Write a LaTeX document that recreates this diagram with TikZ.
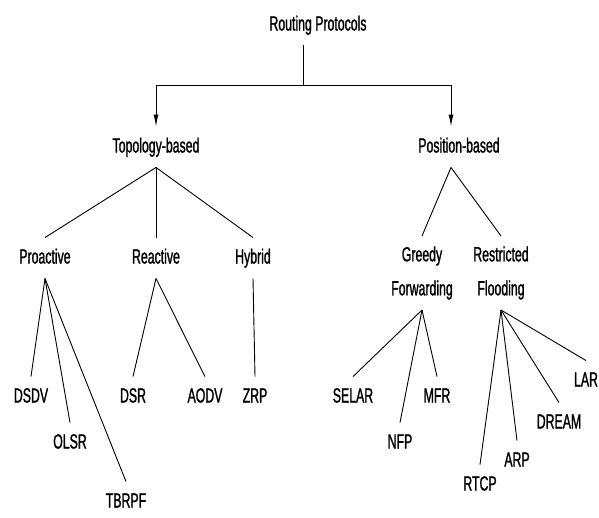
\documentclass[tikz,border=0pt]{standalone}
\usepackage{fontspec}
\setmainfont{Liberation Sans}[FakeStretch=0.6, FakeBold=1.2]
\usetikzlibrary{arrows.meta}

\tikzset{
  base/.style={font=\fontsize{20.5}{34}\selectfont, inner xsep=0pt},
  proto/.style={base, text height=15pt, text depth=4pt, inner ysep=10.5pt},
  twoline/.style={base, align=center, inner ysep=10pt},
  branch/.style={-{Latex[length=12pt,width=5pt]}}
}

\begin{document}
\begin{tikzpicture}[x=1pt, y=-1pt, line width=0.9pt]
\useasboundingbox (0,0) rectangle (599,517);
% Root and split
\node[proto] (root) at (318,25) {Routing Protocols};
\coordinate (split) at (303,85);
% Second level
\node[proto] (topo) at (156,147) {Topology-based};
\node[proto] (pos) at (459,147) {Position-based};
\draw (root.south -| split) -- (split);
\draw[branch] (split) -| (topo.north);
\draw[branch] (split) -| ([xshift=-8pt]pos.north);
% Topology-based classes
\node[proto] (pro) at (45,258) {Proactive};
\node[proto] (rea) at (156,258) {Reactive};
\node[proto] (hyb) at (253,258) {Hybrid};
\draw (topo.south) -- (pro.north);
\draw (topo.south) -- (rea.north);
\draw (topo.south) -- (hyb.north);
% Position-based classes
\node[twoline] (greedy) at (422,273) {Greedy\\Forwarding};
\node[twoline] (restr) at (501,273) {Restricted\\Flooding};
\draw ([xshift=-8pt]pos.south) -- (greedy.north);
\draw ([xshift=-8pt]pos.south) -- (restr.north);
% Proactive protocols
\node[proto] (dsdv) at (31,397) {DSDV};
\node[proto] (olsr) at (70,443) {OLSR};
\node[proto] (tbrpf) at (126,502) {TBRPF};
\draw (pro.south) -- (dsdv.north);
\draw (pro.south) -- (olsr.north);
\draw (pro.south) -- (tbrpf.north);
% Reactive and hybrid protocols
\node[proto] (dsr) at (133,397) {DSR};
\node[proto] (aodv) at (205,397) {AODV};
\node[proto] (zrp) at (255,397) {ZRP};
\draw (rea.south) -- (dsr.north);
\draw (rea.south) -- (aodv.north);
\draw (hyb.south) -- (zrp.north);
% Greedy forwarding protocols
\node[proto] (selar) at (353,397) {SELAR};
\node[proto] (nfp) at (400,443) {NFP};
\node[proto] (mfr) at (437,397) {MFR};
\draw (greedy.south) -- (selar.north);
\draw (greedy.south) -- (nfp.north);
\draw (greedy.south) -- (mfr.north);
% Restricted flooding protocols
\node[proto] (rtcp) at (480,485) {RTCP};
\node[proto] (arp) at (517,461) {ARP};
\node[proto] (dream) at (559,423) {DREAM};
\node[proto] (lar) at (586,381) {LAR};
\draw (restr.south) -- (rtcp.north);
\draw (restr.south) -- (arp.north);
\draw (restr.south) -- (dream.north);
\draw (restr.south) -- (lar.north);
\end{tikzpicture}
\end{document}
